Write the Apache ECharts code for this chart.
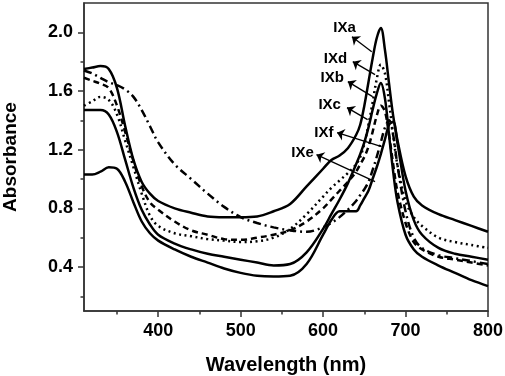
<!DOCTYPE html>
<html>
<head>
<meta charset="utf-8">
<script src="https://cdn.jsdelivr.net/npm/echarts@6/dist/echarts.min.js"></script>
<style>
  html, body { margin: 0; padding: 0; background: #fff; }
  #chart { width: 505px; height: 376px; }
</style>
</head>
<body>
<div id="chart"></div>
<script>
// wavelength grid (nm)
var wavelength = [310, 320, 330, 340, 350, 360, 370, 380, 390, 400, 420, 440, 460, 480, 500, 520, 540, 560, 580, 600,
  610, 620, 630, 640, 645, 650, 655, 660, 665, 670, 675, 680, 685, 690, 700, 710, 720, 740, 760, 780, 800];

// absorbance
var ixa = [1.75, 1.76, 1.77, 1.75, 1.62, 1.36, 1.13, 0.98, 0.90, 0.85, 0.80, 0.77, 0.745, 0.74, 0.74, 0.745, 0.78, 0.83, 0.95, 1.07,
  1.13, 1.16, 1.21, 1.30, 1.37, 1.50, 1.66, 1.82, 1.96, 2.03, 1.88, 1.65, 1.43, 1.27, 1.02, 0.88, 0.82, 0.76, 0.72, 0.68, 0.64];
var ixb = [1.47, 1.47, 1.47, 1.44, 1.32, 1.13, 0.94, 0.79, 0.69, 0.62, 0.56, 0.52, 0.49, 0.47, 0.45, 0.43, 0.41, 0.42, 0.50, 0.66,
  0.76, 0.86, 0.97, 1.10, 1.17, 1.25, 1.35, 1.47, 1.58, 1.655, 1.55, 1.30, 1.05, 0.85, 0.62, 0.52, 0.47, 0.41, 0.36, 0.31, 0.27];
var ixc = [1.69, 1.67, 1.65, 1.62, 1.50, 1.32, 1.12, 0.95, 0.84, 0.79, 0.71, 0.65, 0.62, 0.59, 0.585, 0.60, 0.62, 0.65, 0.71, 0.80,
  0.86, 0.92, 0.98, 1.05, 1.10, 1.15, 1.22, 1.32, 1.43, 1.50, 1.46, 1.30, 1.10, 0.92, 0.70, 0.57, 0.52, 0.47, 0.45, 0.43, 0.41];
var ixd = [1.50, 1.53, 1.56, 1.54, 1.44, 1.26, 1.08, 0.90, 0.75, 0.68, 0.63, 0.61, 0.59, 0.58, 0.57, 0.575, 0.60, 0.66, 0.76, 0.88,
  0.94, 0.99, 1.04, 1.10, 1.15, 1.24, 1.37, 1.52, 1.68, 1.78, 1.72, 1.52, 1.30, 1.10, 0.85, 0.74, 0.68, 0.60, 0.57, 0.55, 0.53];
var ixe = [1.03, 1.03, 1.05, 1.08, 1.07, 0.98, 0.84, 0.71, 0.63, 0.58, 0.52, 0.47, 0.43, 0.39, 0.36, 0.34, 0.335, 0.34, 0.42, 0.62,
  0.72, 0.78, 0.78, 0.78, 0.82, 0.87, 0.92, 1.00, 1.08, 1.17, 1.27, 1.37, 1.39, 1.25, 0.92, 0.72, 0.62, 0.53, 0.49, 0.47, 0.45];
var ixf = [1.74, 1.72, 1.69, 1.66, 1.64, 1.61, 1.56, 1.47, 1.36, 1.25, 1.10, 1.00, 0.90, 0.81, 0.74, 0.70, 0.67, 0.65, 0.64, 0.67,
  0.70, 0.74, 0.79, 0.85, 0.89, 0.93, 0.98, 1.06, 1.15, 1.25, 1.35, 1.40, 1.30, 1.10, 0.78, 0.60, 0.53, 0.48, 0.46, 0.44, 0.42];

// axis ticks
var xLabels = [400, 500, 600, 700, 800];
var xMinor = [350, 450, 550, 650, 750];
var yLabels = [0.4, 0.8, 1.2, 1.6, 2.0];
var yMinor = [0.2, 0.6, 1.0, 1.4, 1.8];

// labels with arrows: [name, label x, label y, arrow head x, head y, tail x, tail y]
var notes = [
  ['IXa', 626, 2.03, 635, 1.97, 659, 1.868],
  ['IXd', 615, 1.82, 636, 1.80, 663, 1.712],
  ['IXb', 611, 1.69, 630, 1.664, 660, 1.562],
  ['IXc', 608, 1.507, 629, 1.487, 654, 1.405],
  ['IXf', 601, 1.316, 617, 1.316, 671, 1.221],
  ['IXe', 575, 1.18, 592, 1.166, 663, 0.982]
];

var font = '"Liberation Sans", Arial, sans-serif';
var axisColor = '#333';

function pairs(ys) {
  return wavelength.map(function (w, i) { return [w, ys[i]]; });
}

function line(name, ys, type) {
  return {
    name: name,
    type: 'line',
    data: pairs(ys),
    smooth: 0.35,
    showSymbol: false,
    lineStyle: { color: '#000', width: 2.5, type: type },
    z: 3
  };
}

var chart = echarts.init(document.getElementById('chart'));

var series = [
  line('IXa', ixa, 'solid'),
  line('IXb', ixb, 'solid'),
  line('IXc', ixc, [6, 4]),
  line('IXd', ixd, [2, 3.5]),
  line('IXe', ixe, 'solid'),
  line('IXf', ixf, [8, 4, 2, 4])
];

// arrows and their text
series[0].markLine = {
  silent: true,
  animation: false,
  symbolSize: [9, 7],
  lineStyle: { color: '#000', width: 1.3, type: 'solid' },
  label: { show: false },
  data: notes.map(function (n) {
    return [
      { coord: [n[5], n[6]], symbol: 'none' },
      { coord: [n[3], n[4]], symbol: 'arrow' }
    ];
  })
};
series[0].markPoint = {
  silent: true,
  animation: false,
  symbol: 'circle',
  symbolSize: 0,
  label: {
    show: true,
    position: 'inside',
    formatter: '{b}',
    color: '#000',
    fontFamily: font,
    fontWeight: 'bold',
    fontSize: 15
  },
  data: notes.map(function (n) {
    return { name: n[0], coord: [n[1], n[2]] };
  })
};

var option = {
  animation: false,
  backgroundColor: '#fff',
  grid: {
    left: 84, top: 3, right: 17, bottom: 65,
    outerBoundsMode: 'none',
    containLabel: false,
    show: true,
    borderColor: axisColor,
    borderWidth: 1.5
  },
  xAxis: [
    {
      type: 'value',
      min: 310, max: 800,
      name: 'Wavelength (nm)',
      nameLocation: 'middle',
      nameGap: 44,
      nameTextStyle: { fontFamily: font, fontWeight: 'bold', fontSize: 20, color: '#000' },
      axisLine: { lineStyle: { color: axisColor, width: 1.5 } },
      axisTick: { show: true, length: 6, customValues: xLabels, lineStyle: { color: axisColor, width: 1.5 } },
      axisLabel: { customValues: xLabels, margin: 11, fontFamily: font, fontWeight: 'bold', fontSize: 18, color: '#000' },
      splitLine: { show: false }
    },
    {
      type: 'value',
      min: 310, max: 800,
      position: 'bottom',
      axisLine: { show: false },
      axisTick: { show: true, length: 3.5, customValues: xMinor, lineStyle: { color: axisColor, width: 1.5 } },
      axisLabel: { show: false },
      splitLine: { show: false }
    }
  ],
  yAxis: [
    {
      type: 'value',
      min: 0.1, max: 2.2,
      name: 'Absorbance',
      nameLocation: 'middle',
      nameGap: 64,
      nameTextStyle: { fontFamily: font, fontWeight: 'bold', fontSize: 19, color: '#000' },
      axisLine: { show: true, lineStyle: { color: axisColor, width: 1.5 } },
      axisTick: { show: true, length: 6, customValues: yLabels, lineStyle: { color: axisColor, width: 1.5 } },
      axisLabel: {
        customValues: yLabels, margin: 11, fontFamily: font, fontWeight: 'bold', fontSize: 18, color: '#000',
        formatter: function (v) { return v.toFixed(1); }
      },
      splitLine: { show: false }
    },
    {
      type: 'value',
      min: 0.1, max: 2.2,
      position: 'left',
      axisLine: { show: false },
      axisTick: { show: true, length: 3.5, customValues: yMinor, lineStyle: { color: axisColor, width: 1.5 } },
      axisLabel: { show: false },
      splitLine: { show: false }
    }
  ],
  series: series
};

chart.setOption(option);
</script>
</body>
</html>
